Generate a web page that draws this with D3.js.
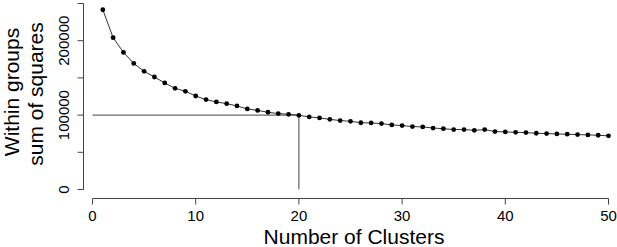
<!DOCTYPE html>
<html><head><meta charset="utf-8">
<script src="https://cdn.jsdelivr.net/npm/d3@7"></script>
<style>body{margin:0;background:#fff}svg{display:block}text{font-family:Arial,"Liberation Sans",Helvetica,sans-serif;fill:#000}</style>
</head><body>
<script>
const clusters = d3.range(1, 51);
const wss = [241600,204000,184300,169500,158800,151200,143200,136000,132000,125700,
  120800,117700,115400,112300,108300,106300,103800,102000,101100,99700,
  97600,96200,94300,92600,91700,89700,89500,88600,86800,85900,
  84600,84100,82600,81700,80600,80500,79600,80500,77900,77400,
  76900,76500,75600,75200,74700,74300,73800,73400,72900,72100];
const xTicks = [0,10,20,30,40,50];
const yTicks = [0,50000,100000,150000,200000,250000];
const yLabels = [0,100000,200000];
const refK = 20, refWss = 100000;

const W = 617, H = 247;
const svg = d3.select("body").append("svg").attr("width", W).attr("height", H);
const x = d3.scaleLinear().domain([0,50]).range([92.5, 608.5]);
const y = d3.scaleLinear().domain([0,250000]).range([189.5, 3.5]);

// y axis
const ya = svg.append("g").attr("transform","translate(83.5,0)");
ya.append("line").attr("y1", y(0)).attr("y2", y(250000)).attr("stroke","#444");
ya.selectAll(".t").data(yTicks).join("line").attr("x1",0).attr("x2",-6)
  .attr("y1", d=>y(d)).attr("y2", d=>y(d)).attr("stroke","#444");
ya.selectAll("text").data(yLabels).join("text")
  .attr("transform", d=>`translate(-15,${y(d)}) rotate(-90)`)
  .attr("text-anchor","middle").style("font-size","15px").text(d=>d);

// x axis
const xa = svg.append("g").attr("transform","translate(0,198.5)");
xa.append("line").attr("x1", x(0)).attr("x2", x(50)).attr("stroke","#444");
xa.selectAll(".t").data(xTicks).join("line").attr("y1",0).attr("y2",6)
  .attr("x1", d=>x(d)).attr("x2", d=>x(d)).attr("stroke","#444");
xa.selectAll("text").data(xTicks).join("text")
  .attr("x", d=>x(d)).attr("y", 22).attr("text-anchor","middle").style("font-size","15px").text(d=>d);

// titles
svg.append("text").attr("x", 354).attr("y", 244).attr("text-anchor","middle")
  .style("font-size","21px").text("Number of Clusters");
svg.append("text").attr("transform","translate(19,92) rotate(-90)").attr("text-anchor","middle")
  .style("font-size","21px").text("Within groups");
svg.append("text").attr("transform","translate(43,94) rotate(-90)").attr("text-anchor","middle")
  .style("font-size","21px").text("sum of squares");

// reference lines
svg.append("line").attr("x1", x(0)).attr("x2", x(refK)).attr("y1", y(refWss)).attr("y2", y(refWss)).attr("stroke","#444");
svg.append("line").attr("x1", x(refK)).attr("x2", x(refK)).attr("y1", y(refWss)).attr("y2", y(0)).attr("stroke","#444");

// data
const data = clusters.map((k,i)=>({k, v: wss[i]}));
svg.append("path").datum(data).attr("fill","none").attr("stroke","#333").attr("stroke-width",1)
  .attr("d", d3.line().x(d=>x(d.k)).y(d=>y(d.v)));
svg.selectAll("circle").data(data).join("circle")
  .attr("cx", d=>x(d.k)).attr("cy", d=>y(d.v)).attr("r", 2.4).attr("fill","#000");
</script>
</body></html>
